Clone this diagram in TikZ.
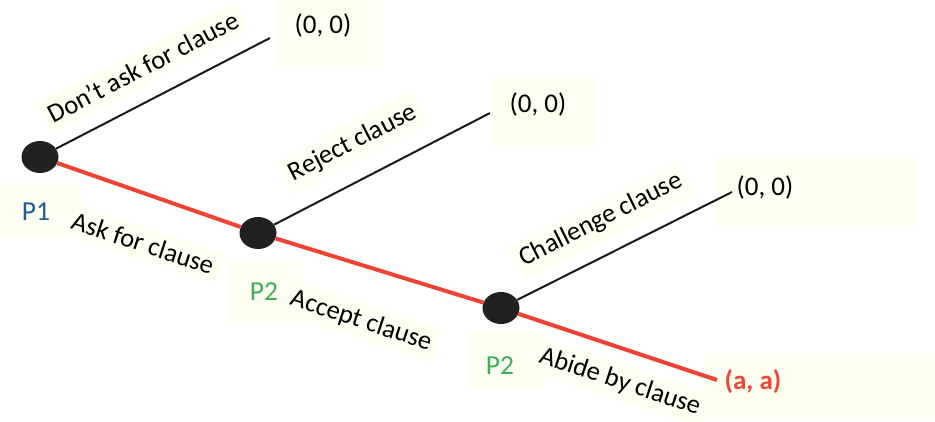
\documentclass[tikz,border=0pt]{standalone}
\usepackage{fontspec}
\setmainfont{Carlito}
\usetikzlibrary{shapes.geometric}

\definecolor{bgcream}{RGB}{254,254,241}
\definecolor{pathred}{RGB}{238,68,51}
\definecolor{pone}{RGB}{31,92,153}
\definecolor{ptwo}{RGB}{61,174,91}

\tikzset{
  decision/.style={ellipse, fill=black!87, minimum width=37pt, minimum height=32pt, inner sep=0pt},
  move/.style={line width=2pt, black!90},
  played/.style={line width=4pt, pathred},
  act/.style={fill=bgcream, font=\fontsize{26.5}{30}\selectfont, inner sep=7pt},
  payoff/.style={fill=bgcream, anchor=north west},
  player/.style={fill=bgcream, anchor=north west}
}

\begin{document}
\begin{tikzpicture}[x=1pt, y=-1pt]

   \useasboundingbox (0,0) rectangle (935,422);

   % light boxes behind the labels
   \node[payoff, minimum width=108pt, minimum height=67pt] at (275,0) {};
   \node[payoff, minimum width=103pt, minimum height=71pt] at (492,77) {};
   \node[payoff, minimum width=200pt, minimum height=71pt] at (717,157) {};
   \node[payoff, minimum width=230pt, minimum height=67pt] at (705,353) {};
   \node[player, minimum width=82pt, minimum height=55pt] at (0,183) {};
   \node[player, minimum width=75pt, minimum height=62pt] at (228,260) {};
   \node[player, minimum width=76pt, minimum height=60pt] at (469,330) {};

   \node[decision] (p1) at (40,157) {};
   \node[decision] (p2a) at (258,233) {};
   \node[decision] (p2b) at (501,308) {};

   \coordinate (e1) at (270,38);
   \coordinate (e2) at (490,113);
   \coordinate (e3) at (732,192);
   \coordinate (e4) at (717,380);

   \draw[move] (p1) -- (e1);
   \draw[move] (p2a) -- (e2);
   \draw[move] (p2b) -- (e3);
   \draw[played] (p1) -- (p2a) -- (p2b) -- (e4);

   \draw(143,67) node[act, rotate=27.4] (a1) {Don’t ask for clause};
   \draw(143,243) node[act, rotate=-18.2] (a2) {Ask for clause};
   \draw(353,143) node[act, rotate=27.3] (a3) {Reject clause};
   \draw(361,321) node[act, rotate=-18.2] (a4) {Accept clause};
   \draw(601,220) node[act, rotate=26.7] (a5) {Challenge clause};
   \draw(620,382) node[act, rotate=-18.2] (a6) {Abide by clause};

   \draw(323,25) node[font=\fontsize{27}{30}\selectfont] (o1) {(0, 0)};
   \draw(538,104) node[font=\fontsize{27}{30}\selectfont] (o2) {(0, 0)};
   \draw(765,187) node[font=\fontsize{27}{30}\selectfont] (o3) {(0, 0)};
   \draw(753,382) node[font=\fontsize{27}{30}\selectfont\bfseries, text=pathred] (o4) {(a, a)};

   \draw(36,212) node[font=\fontsize{27.5}{30}\selectfont, text=pone] (l1) {P1};
   \draw(264,292) node[font=\fontsize{27.5}{30}\selectfont, text=ptwo] (l2) {P2};
   \draw(500,366) node[font=\fontsize{27.5}{30}\selectfont, text=ptwo] (l3) {P2};

 \end{tikzpicture}
\end{document}
